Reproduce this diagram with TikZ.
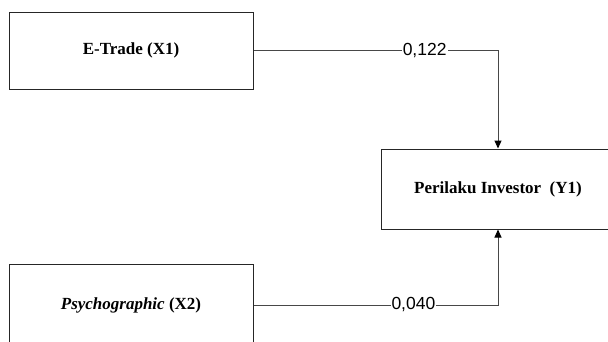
\documentclass[tikz,border=0pt]{standalone}
\usepackage{fontspec}
\setmainfont{Liberation Serif}
\newfontfamily\lblfont{Liberation Sans}
\usetikzlibrary{arrows.meta}
\tikzset{
  varbox/.style={draw=black!85, line width=1pt, rectangle, inner sep=0pt,
    font=\fontsize{17}{20}\selectfont\bfseries},
  conn/.style={draw=black!72, line width=1pt},
  coef/.style={fill=white, inner sep=1pt, text=black, font=\lblfont\fontsize{17.5}{20}\selectfont},
  tip/.style={-{Triangle[width=7pt,length=8pt,color=black]}}
}
\begin{document}
\begin{tikzpicture}[x=1pt,y=-1pt]
\useasboundingbox (0,0) rectangle (608,341);
\fill[white] (0,0) rectangle (608,341);
\clip (0,0) rectangle (608,341);
\node[varbox, minimum width=244pt, minimum height=77pt] (et) at (131,50.5) {E-Trade (X1)};
\node[varbox, minimum width=234pt, minimum height=80pt] (y1) at (498,189) {Perilaku Investor~~(Y1)};
\node[varbox, minimum width=244pt, minimum height=82pt] (ps) at (131,305) {\textit{Psychographic} (X2)};
\draw[conn, tip] (et.east) -| node[coef, pos=0.35] {0,122} (y1.north);
\draw[conn, tip] (ps.east) -| node[coef, pos=0.327] {0,040} (y1.south);
\end{tikzpicture}
\end{document}
